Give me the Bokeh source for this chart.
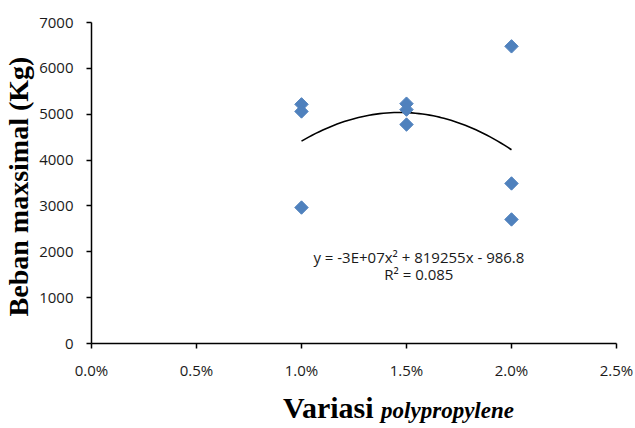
import numpy as np
from bokeh.plotting import figure
from bokeh.layouts import column
from bokeh.models import ColumnDataSource, NumeralTickFormatter, FixedTicker, Label, Range1d, Div
from bokeh.embed import file_html
from bokeh.resources import INLINE

# Data
pp_variation = [0.010, 0.010, 0.010, 0.015, 0.015, 0.015, 0.020, 0.020, 0.020]
max_load = [5215, 5060, 2965, 5230, 5100, 4775, 6480, 3490, 2705]
x_ticks = [0.0, 0.005, 0.010, 0.015, 0.020, 0.025]
y_ticks = [0, 1000, 2000, 3000, 4000, 5000, 6000, 7000]
eq_text = "y = -3E+07x\u00b2 + 819255x - 986.8"
r2_text = "R\u00b2 = 0.085"
x_title_plain = "Variasi"
x_title_italic = "polypropylene"
y_title = "Beban maxsimal  (Kg)"

# Polynomial trendline (order 2) computed from the data
coef = np.polyfit(pp_variation, max_load, 2)
xs = np.linspace(min(pp_variation), max(pp_variation), 60)
ys = np.polyval(coef, xs)

p = figure(width=635, height=395, output_backend="svg", toolbar_location=None,
           x_range=Range1d(0, 0.025), y_range=Range1d(0, 7000),
           min_border_left=90, min_border_right=19, min_border_top=22, min_border_bottom=52)
p.outline_line_color = None
p.xgrid.visible = False
p.ygrid.visible = False
p.background_fill_color = "white"
p.border_fill_color = "white"

p.line(xs, ys, line_color="black", line_width=1.6)
src = ColumnDataSource(dict(x=pp_variation, y=max_load))
p.scatter("x", "y", source=src, marker="square", angle=np.pi / 4, size=9.5,
          fill_color="#4F81BD", line_color="#4F81BD", line_width=1)

for ax in (p.xaxis[0], p.yaxis[0]):
    ax.axis_line_color = "black"
    ax.axis_line_width = 1.5
    ax.major_tick_line_color = "black"
    ax.major_tick_line_width = 1.5
    ax.major_tick_out = 5
    ax.major_tick_in = 0
    ax.minor_tick_line_color = None
    ax.major_label_text_font = "Open Sans"
    ax.major_label_text_font_size = "15px"
    ax.major_label_text_color = "#1a1a1a"

p.xaxis.ticker = FixedTicker(ticks=x_ticks)
p.yaxis.ticker = FixedTicker(ticks=y_ticks)
p.xaxis.formatter = NumeralTickFormatter(format="0.0%")
p.xaxis.major_label_standoff = 11
p.yaxis.major_label_standoff = 13

p.yaxis.axis_label = y_title
p.yaxis.axis_label_text_font = "Liberation Serif"
p.yaxis.axis_label_text_font_style = "bold"
p.yaxis.axis_label_text_font_size = "28px"
p.yaxis.axis_label_text_color = "black"
p.yaxis.axis_label_standoff = 2

p.add_layout(Label(x=0.01559, y=1897, text=eq_text, text_align="center", text_baseline="middle",
                   text_font="Open Sans", text_font_size="15px", text_color="#1a1a1a"))
p.add_layout(Label(x=0.01559, y=1505, text=r2_text, text_align="center", text_baseline="middle",
                   text_font="Open Sans", text_font_size="15px", text_color="#1a1a1a"))

title_div = Div(
    text=(f'<span style="font-weight:bold;font-size:30px">{x_title_plain} </span>'
          f'<span style="font-weight:bold;font-style:italic;font-size:23px">{x_title_italic}</span>'),
    width=635, height=33, margin=(0, 0, 0, 0),
    styles={"font-family": "'Liberation Serif', 'Times New Roman', serif", "color": "black",
            "line-height": "26px", "padding-left": "283px", "white-space": "nowrap"})

layout = column(p, title_div, spacing=0)
open("out.html", "w").write(file_html(layout, INLINE))
